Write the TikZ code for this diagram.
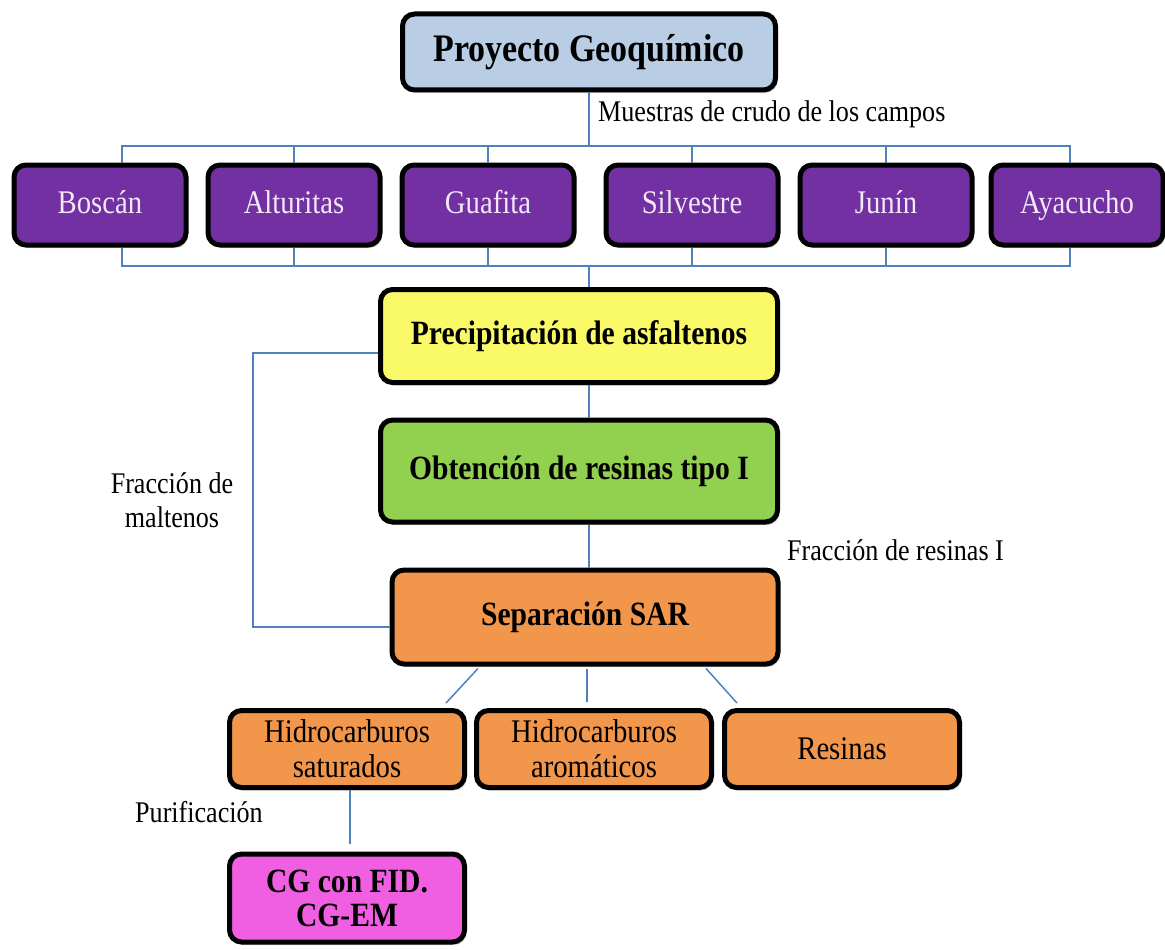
\documentclass[tikz,border=0pt]{standalone}
\usepackage{fontspec}
\setmainfont[FakeStretch=0.87]{Liberation Serif}
\usepackage{xcolor}
\usepackage{tikz}
\usetikzlibrary{positioning,calc,shadows}

\definecolor{geoblue}{RGB}{185,205,229}
\definecolor{campurple}{RGB}{114,48,162}
\definecolor{camptext}{RGB}{242,232,248}
\definecolor{precyellow}{RGB}{250,250,105}
\definecolor{obtgreen}{RGB}{146,208,80}
\definecolor{sarorange}{RGB}{242,150,76}
\definecolor{cgpink}{RGB}{240,95,225}
\definecolor{linkblue}{RGB}{79,129,189}

\begin{document}
\begin{tikzpicture}[x=1pt,y=-1pt,
  box/.style={draw=black, line width=5pt, rounded corners=12pt, align=center, inner sep=2pt,
    drop shadow={opacity=0.35, shadow xshift=2pt, shadow yshift=-3pt}},
  campo/.style={box, fill=campurple, text=camptext, minimum width=172pt, minimum height=80pt,
    text height=23pt, text depth=7pt, font=\fontsize{33}{37}\selectfont},
  paso/.style={box, font=\bfseries\fontsize{34}{38}\selectfont},
  fraccion/.style={box, fill=sarorange, minimum width=235pt, minimum height=77pt,
    font=\fontsize{33}{35}\selectfont},
  link/.style={draw=linkblue, line width=1.5pt},
  etiqueta/.style={font=\fontsize{30}{34}\selectfont, inner sep=0pt}]
  \useasboundingbox (0,0) rectangle (1165,950);

  % Project and sample fields
  \node[paso, fill=geoblue, minimum width=373pt, minimum height=76pt,
    font=\bfseries\fontsize{39}{42}\selectfont] (proy) at (589, 52) {Proyecto Geoquímico};

  \node[campo] (boscan) at (100, 205) {Boscán};
  \node[campo] (altur) at (294, 205) {Alturitas};
  \node[campo] (guaf) at (488, 205) {Guafita};
  \node[campo] (silv) at (692, 205) {Silvestre};
  \node[campo] (junin) at (886, 205) {Junín};
  \node[campo] (ayac) at (1077, 205) {Ayacucho};

  \coordinate (topbus) at (589, 146);
  \coordinate (botbus) at (589, 266);

  \draw[link] (proy.south) -- (topbus);
  \node[etiqueta, anchor=west] (muestras) at (598, 114) {Muestras de crudo de los campos};

  \draw[link] ([xshift=22pt]boscan.north) |- ([xshift=-7pt]ayac.north |- topbus)
    -- ([xshift=-7pt]ayac.north);
  \draw[link] ([xshift=22pt]boscan.south) |- ([xshift=-7pt]ayac.south |- botbus)
    -- ([xshift=-7pt]ayac.south);
  \foreach \c in {altur, guaf, silv, junin} {
    \draw[link] (\c.north) -- (\c.north |- topbus);
    \draw[link] (\c.south) -- (\c.south |- botbus);
  }

  % Main sequence
  \node[paso, fill=precyellow, minimum width=397pt, minimum height=93pt] (precip) at (579, 336)
    {Precipitación de asfaltenos};
  \node[paso, fill=obtgreen, minimum width=397pt, minimum height=102pt] (obten) at (579, 471)
    {Obtención de resinas tipo I};
  \node[paso, fill=sarorange, minimum width=386pt, minimum height=94pt] (sar) at (585, 617)
    {Separación SAR};

  \draw[link] (botbus) -- (precip.north -| botbus);
  \draw[link] (precip.south -| topbus) -- (obten.north -| topbus);
  \draw[link] (obten.south -| topbus) -- (sar.north -| topbus);
  \node[etiqueta, anchor=west] (resI) at (787, 550) {Fracción de resinas I};

  % Maltenos go straight to SAR
  \coordinate (malt) at (253, 490);
  \draw[link] ([yshift=-17pt]precip.west) -| (malt) |- ([yshift=-10pt]sar.west);
  \node[etiqueta, align=center] (maltenos) at (172, 500) {Fracción de\\maltenos};

  % SAR fractions
  \node[fraccion] (sat) at (347, 749) {Hidrocarburos\\saturados};
  \node[fraccion] (arom) at (594, 749) {Hidrocarburos\\aromáticos};
  \node[fraccion] (resin) at (842, 749) {Resinas};

  \draw[link] ($(sar.south)+(-107,2)$) -- ($(sat.north)+(99,-5)$);
  \draw[link] ($(sar.south)+(2,2)$) -- ($(sar.south |- arom.north)+(2,-6)$);
  \draw[link] ($(sar.south)+(121,2)$) -- ($(resin.north)+(-105,-5)$);

  % Purification and GC
  \node[box, fill=cgpink, minimum width=235pt, minimum height=88pt,
    font=\bfseries\fontsize{34}{34}\selectfont] (cg) at (347, 898) {CG con FID.\\CG-EM};
  \draw[link] ($(sat.south)+(3,0)$) -- ($(cg.north)+(3,-8)$);
  \node[etiqueta, anchor=west] (purif) at (135, 812) {Purificación};

\end{tikzpicture}
\end{document}
